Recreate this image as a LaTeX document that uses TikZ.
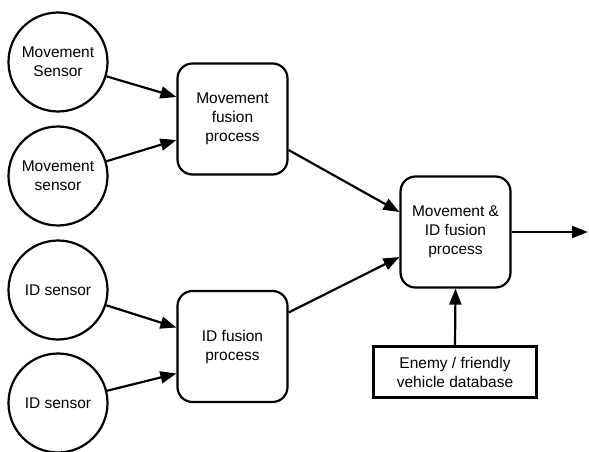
\documentclass[tikz,border=0pt]{standalone}
\usepackage{fontspec}
\setmainfont{Liberation Sans}
\usetikzlibrary{arrows.meta}
\begin{document}
\begin{tikzpicture}[x=1pt,y=-1pt,
  every node/.style={font=\fontsize{15.5}{19}\selectfont, align=center, line width=2.2pt},
  sensor/.style={draw, circle, minimum size=99pt, inner sep=0pt},
  proc/.style={draw, rounded corners=15pt, minimum width=110pt, minimum height=111pt, inner sep=0pt},
  db/.style={draw, minimum width=163pt, minimum height=51pt, inner sep=0pt},
  conn/.style={line width=2.2pt, -{Triangle[length=16pt,width=12pt]}}]
\useasboundingbox (0,0) rectangle (589,452);
\node[sensor] (s1) at (58,62) {Movement\\Sensor};
\node[sensor] (s2) at (58,176) {Movement\\sensor};
\node[sensor] (s3) at (58,290) {ID sensor};
\node[sensor] (s4) at (58,403) {ID sensor};
\node[proc] (p1) at (232.5,119) {Movement\\fusion\\process};
\node[proc] (p2) at (232.5,346.5) {ID fusion\\process};
\node[proc] (p3) at (455.5,232) {Movement \&\\ID fusion\\process};
\node[db] (d) at (455,372) {Enemy / friendly\\vehicle database};
\coordinate (out) at (588,232);
\draw[conn] (s1) -- ([yshift=22pt]p1.west);
\draw[conn] (s2) -- ([yshift=-21pt]p1.west);
\draw[conn] (s3) -- ([yshift=19pt]p2.west);
\draw[conn] (s4) -- ([yshift=-27pt]p2.west);
\draw[conn] ([yshift=-31pt]p1.east) -- ([yshift=20pt]p3.west);
\draw[conn] ([yshift=34pt]p2.east) -- ([yshift=-25pt]p3.west);
\draw[conn] (p3.east) -- (out);
\draw[conn] (d.north) -- (p3.south);
\end{tikzpicture}
\end{document}
